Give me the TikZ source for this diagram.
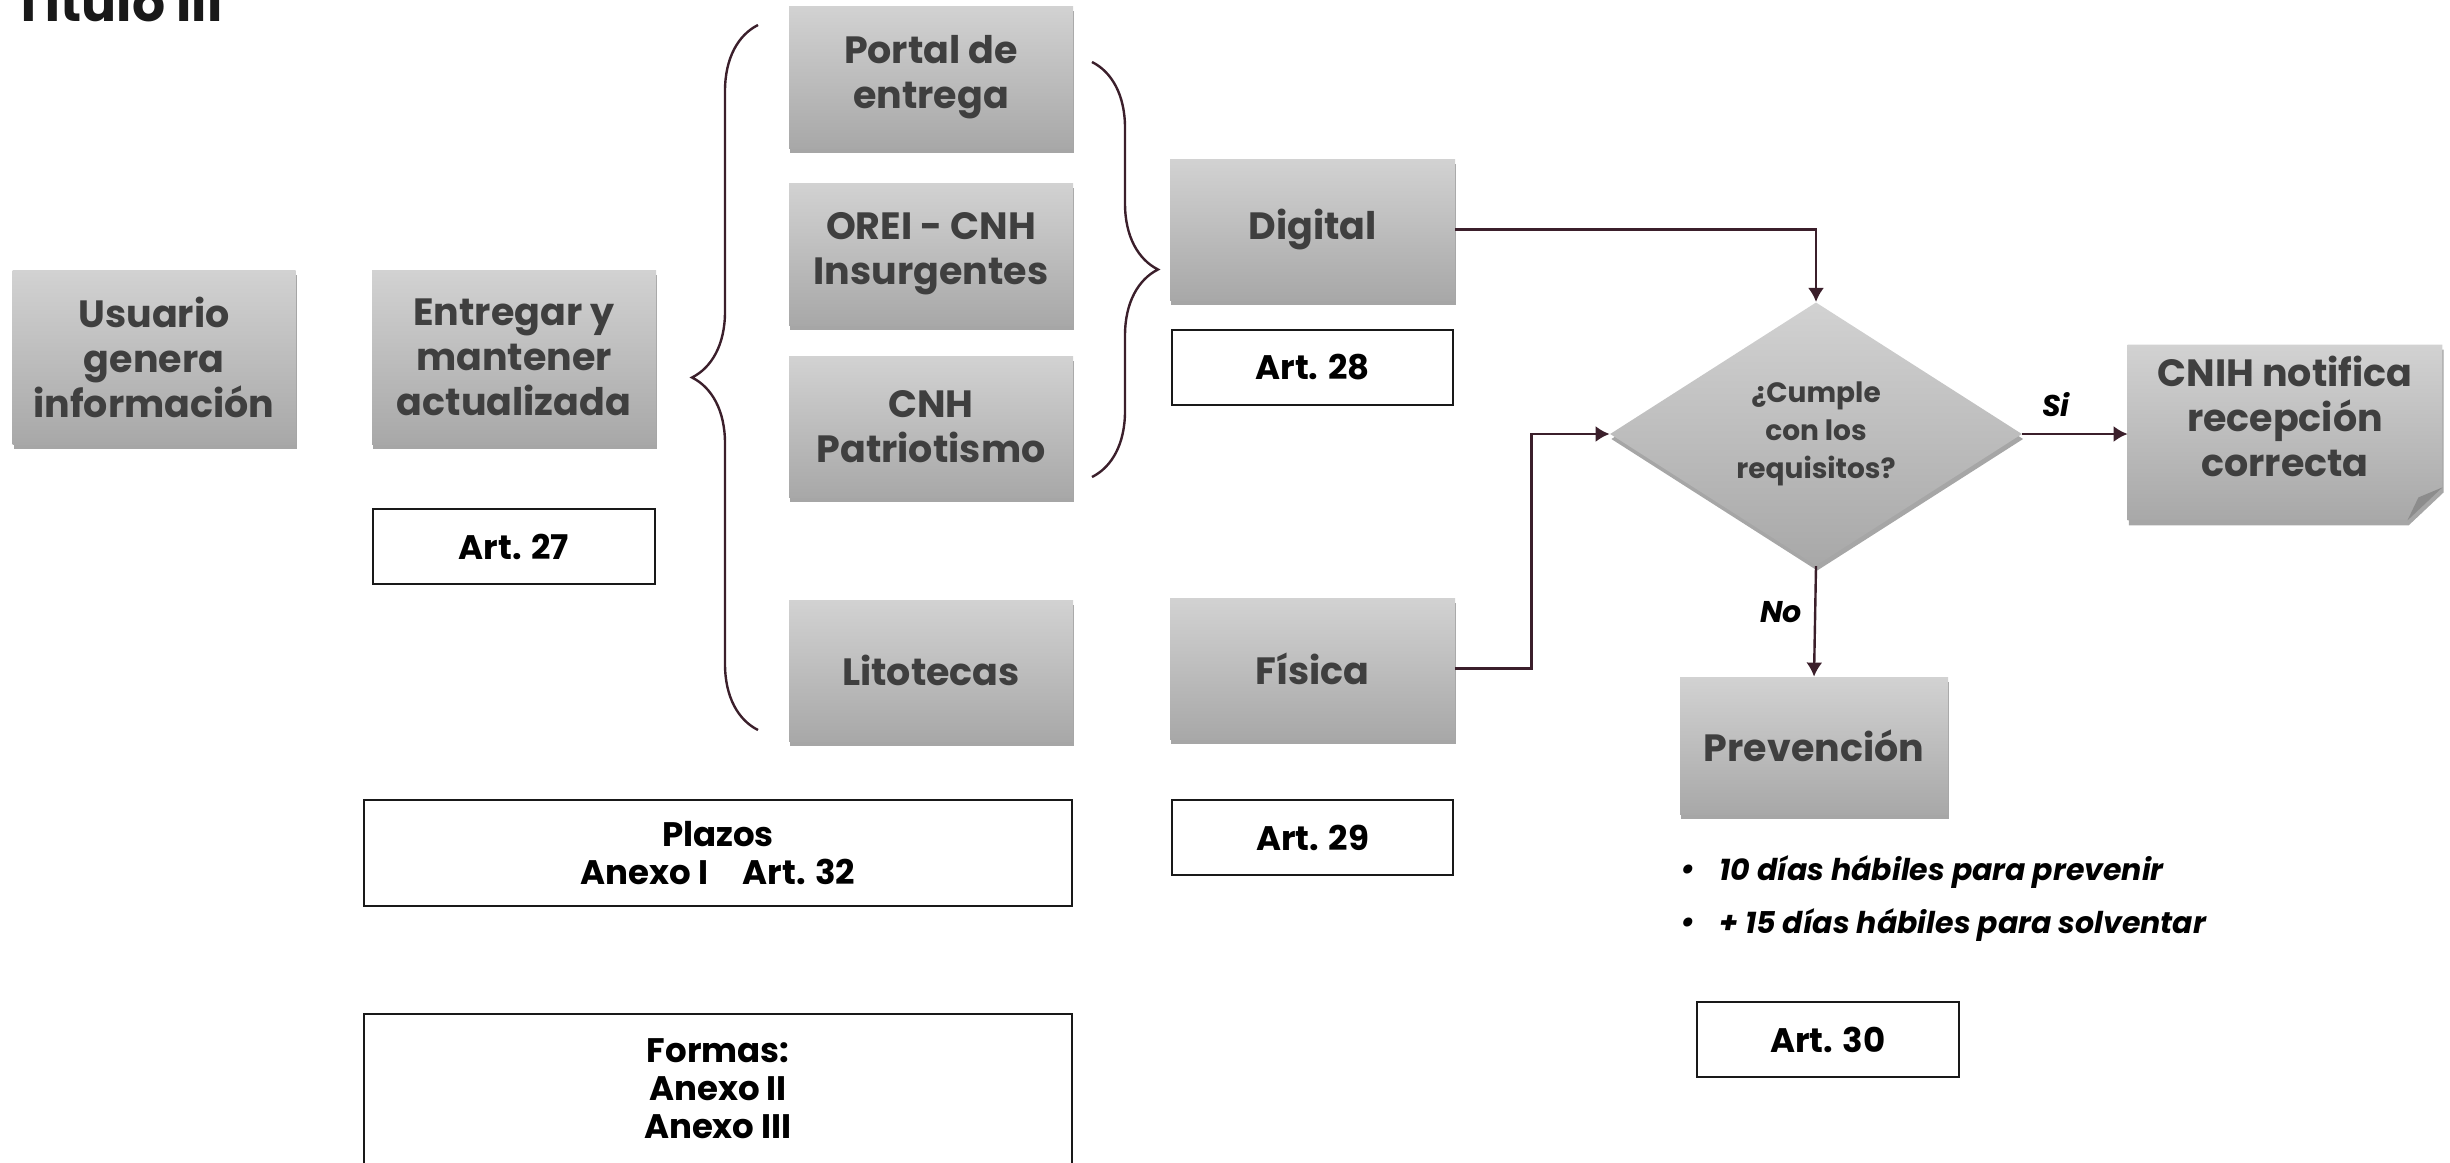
\documentclass[tikz,border=0pt]{standalone}
\usepackage{fontspec}
\setmainfont{Poppins}
\usetikzlibrary{shapes.geometric,shadows,arrows.meta,decorations.pathreplacing,backgrounds,calc}
\definecolor{linec}{HTML}{3B1F2B}
\definecolor{boxtop}{HTML}{D2D2D2}
\definecolor{boxbot}{HTML}{A8A8A8}
\definecolor{boxtext}{HTML}{3F3F3F}
\definecolor{foldc}{HTML}{8C8C8C}
\tikzset{
  gshadow/.style={drop shadow={shadow xshift=0.6pt, shadow yshift=-2.5pt, opacity=0.35, fill=black}},
  gbox/.style={rectangle, top color=boxtop, bottom color=boxbot, draw=none, text=boxtext,
    font=\bfseries\fontsize{19}{22.5}\selectfont, align=center, inner sep=0pt, gshadow},
  gtext/.style={text=boxtext, font=\bfseries\fontsize{19}{22.5}\selectfont, align=center, inner sep=0pt},
  artbox/.style={rectangle, draw=black!90, line width=1.2pt, fill=white, text=black,
    font=\bfseries\fontsize{17}{19}\selectfont, align=center, inner sep=0pt},
  conn/.style={draw=linec, line width=1.2pt, -{Latex[length=7pt,width=8pt]}},
  bracestyle/.style={draw=linec, line width=1.2pt, decorate, decoration={brace, amplitude=33pt}},
  lbl/.style={text=black, font=\bfseries\itshape\fontsize{15}{18}\selectfont, inner sep=0pt},
  bul/.style={text=black, font=\bfseries\itshape\fontsize{15}{18}\selectfont, inner sep=0pt, anchor=west}
}
\begin{document}
\begin{tikzpicture}[x=0.5pt,y=-0.5pt]
\useasboundingbox (0,0) rectangle (2450,1162);

% title
\node[anchor=base west, inner sep=0pt, text=black!90, font=\bfseries\fontsize{26}{30}\selectfont] (title) at (13,21) {Título III};

% left column
\node[gbox, minimum width=141.5pt, minimum height=87pt] (usuario) at (154,357) {Usuario\\genera\\información};
\node[gbox, minimum width=142pt, minimum height=87pt] (entregar) at (514,357) {Entregar y\\mantener\\actualizada};
\node[artbox, minimum width=141pt, minimum height=37.5pt] (art27) at (514,546.5) {Art. 27};

% channels
\node[gbox, minimum width=142pt, minimum height=71pt] (portal) at (931,77) {Portal de\\entrega};
\node[gbox, minimum width=142pt, minimum height=71pt] (orei) at (931,254) {OREI - CNH\\Insurgentes};
\node[gbox, minimum width=142pt, minimum height=70.5pt] (cnhp) at (931,426.5) {CNH\\Patriotismo};
\node[gbox, minimum width=142pt, minimum height=70.5pt] (lito) at (931,670.5) {Litotecas};

% braces
\coordinate (lbtop) at (758,25);
\coordinate (lbbot) at (758,730);
\draw[bracestyle] (lbbot) -- (lbtop);
\coordinate (rbtop) at (1092,62);
\coordinate (rbbot) at (1092,477);
\draw[bracestyle] (rbtop) -- (rbbot);

% digital / fisica
\node[gbox, minimum width=142.5pt, minimum height=70.5pt] (digital) at (1312.5,229.5) {Digital};
\node[artbox, minimum width=140.5pt, minimum height=37.5pt] (art28) at (1312.5,367.5) {Art. 28};
\node[gbox, minimum width=142.5pt, minimum height=70.5pt] (fisica) at (1312.5,668.5) {Física};
\node[artbox, minimum width=140.5pt, minimum height=37.5pt] (art29) at (1312.5,837.5) {Art. 29};

% plazos / formas
\node[artbox, minimum width=354pt, minimum height=53pt] (plazos) at (718,853) {Plazos\\Anexo I\quad Art. 32};
\node[artbox, minimum width=354pt, minimum height=75pt] (formas) at (718,1089) {Formas:\\Anexo II\\Anexo III};

% decision
\node[diamond, top color=boxtop, bottom color=boxbot, draw=none, text=boxtext, gshadow,
  minimum width=206pt, minimum height=129pt, inner sep=0pt, align=center,
  font=\bfseries\fontsize{14}{19}\selectfont] (dec) at (1816,434) {¿Cumple\\con los\\requisitos?};

% CNIH notifica (folded corner)
\node[minimum width=157pt, minimum height=87.5pt, inner sep=0pt] (cnih) at (2285,432.5) {};
\begin{pgfonlayer}{background}
\path[top color=boxtop, bottom color=boxbot, gshadow]
  (cnih.north west) -- (cnih.north east) -- ($(cnih.south east)+(0,-33)$)
  -- ($(cnih.south east)+(-35,0)$) -- (cnih.south west) -- cycle;
\fill[foldc] ($(cnih.south east)+(0,-33)$) -- ($(cnih.south east)+(-35,0)$) -- ($(cnih.south east)+(-24,-23)$) -- cycle;
\end{pgfonlayer}
\node[gtext] (cnihtext) at (2285,416) {CNIH notifica\\recepción\\correcta};

\node[gbox, minimum width=134pt, minimum height=68.5pt] (prev) at (1814,745.5) {Prevención};

% bullets
\node[bul, anchor=center] (b1dot) at (1688,872) {•};
\node[bul] (b1) at (1719,872) {10 días hábiles para prevenir};
\node[bul, anchor=center] (b2dot) at (1688,925) {•};
\node[bul] (b2) at (1719,925) {+ 15 días hábiles para solventar};
\node[artbox, minimum width=131pt, minimum height=37.5pt] (art30) at (1828,1039.5) {Art. 30};

% connectors
\draw[conn] (digital.east) -| (dec.north);
\draw[conn] (fisica.east) -- ++(76,0) |- (dec.west);
\draw[conn] (dec.east) -- (dec.east -| cnih.west);
\draw[conn] (dec.south) -- (prev.north);
\node[lbl] (si) at (2056,405) {Si};
\node[lbl] (no) at (1781,612) {No};
\end{tikzpicture}
\end{document}
